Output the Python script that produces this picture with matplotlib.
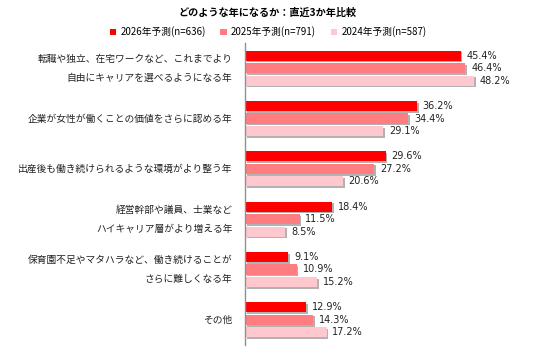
import matplotlib
matplotlib.use("Agg")
import matplotlib.pyplot as plt
import matplotlib.patheffects as pe
import numpy as np

plt.rcParams['font.family'] = ['Noto Sans CJK JP', 'DejaVu Sans']

categories = [
    "転職や独立、在宅ワークなど、これまでより\n自由にキャリアを選べるようになる年",
    "企業が女性が働くことの価値をさらに認める年",
    "出産後も働き続けられるような環境がより整う年",
    "経営幹部や議員、士業など\nハイキャリア層がより増える年",
    "保育園不足やマタハラなど、働き続けることが\nさらに難しくなる年",
    "その他",
]
series_names = ["2026年予測(n=636)", "2025年予測(n=791)", "2024年予測(n=587)"]
v2026 = [45.4, 36.2, 29.6, 18.4, 9.1, 12.9]
v2025 = [46.4, 34.4, 27.2, 11.5, 10.9, 14.3]
v2024 = [48.2, 29.1, 20.6, 8.5, 15.2, 17.2]
title = "どのような年になるか：直近3か年比較"

colors = ["#FF0000", "#FF7C80", "#FFC7CE"]
series = [v2026, v2025, v2024]

W, H = 536, 353
fig = plt.figure(figsize=(W / 100, H / 100), dpi=100)
ax = fig.add_axes([245 / W, 1 - 345 / H, 285 / W, (345 - 43) / H])

y = np.arange(len(categories))
offsets = [-0.25, 0.0, 0.25]
shadow = [pe.SimplePatchShadow(offset=(1.2, -1.2), shadow_rgbFace="#808080", alpha=0.6), pe.Normal()]
for vals, off, col, name in zip(series, offsets, colors, series_names):
    bars = ax.barh(y + off, vals, height=0.2, color=col, label=name, zorder=2)
    for b in bars:
        b.set_path_effects(shadow)
    for yy, v in zip(y + off, vals):
        ax.text(v + 1.2, yy, f"{v:.1f}%", va="center", ha="left",
                fontsize=7, family="DejaVu Sans", color="#222222")

ax.set_xlim(0, 60)
ax.set_ylim(len(categories) - 0.5, -0.5)
ax.set_yticks(y)
ax.set_yticklabels(categories, fontsize=7, linespacing=2.1, color="#222222")
for lab in ax.get_yticklabels():
    lab.set_verticalalignment("center")
ax.tick_params(axis="y", length=0, pad=9)
ax.set_xticks([])
for s in ["top", "right", "bottom"]:
    ax.spines[s].set_visible(False)
ax.spines["left"].set_color("#909090")
ax.spines["left"].set_linewidth(1.0)

fig.text(0.5, 1 - 13 / H, title, ha="center", va="center", fontsize=7.3, fontweight="bold")

leg = fig.legend(loc="center", bbox_to_anchor=(0.5, 1 - 32 / H), ncol=3, frameon=False,
                 fontsize=7, handlelength=0.7, handleheight=0.7, columnspacing=1.5,
                 handletextpad=0.4)
for h in leg.legend_handles:
    h.set_path_effects([])

fig.savefig("out.png", dpi=100)
